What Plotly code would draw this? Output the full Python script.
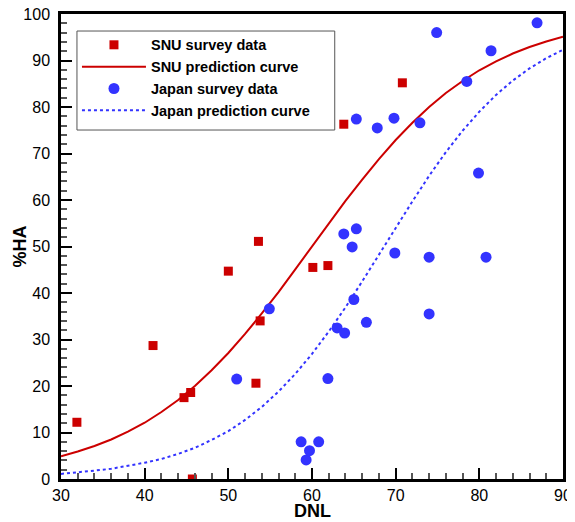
import plotly.graph_objects as go

# SNU survey data
snu_x = [31.9, 41.0, 44.7, 45.5, 45.7, 50.0, 53.3, 53.6, 53.8, 60.1, 61.9, 63.8, 70.8]
snu_y = [12.2, 28.7, 17.5, 18.6, 0.0, 44.7, 20.6, 51.1, 34.0, 45.5, 45.9, 76.3, 85.2]

# Japan survey data
jp_x = [51.0, 54.9, 58.7, 59.3, 59.7, 60.8, 61.9, 63.0, 63.9, 65.0, 66.5, 74.0, 63.8, 65.3,
        64.8, 69.9, 74.0, 80.8, 74.9, 86.9, 81.4, 78.5, 65.3, 67.8, 69.8, 72.9, 79.9]
jp_y = [21.5, 36.6, 8.0, 4.1, 6.1, 8.0, 21.6, 32.5, 31.4, 38.6, 33.7, 35.5, 52.7, 53.8,
        49.9, 48.6, 47.7, 47.7, 96.0, 98.1, 92.1, 85.5, 77.4, 75.5, 77.6, 76.6, 65.8]

# prediction curves
curve_x = [30, 32, 34, 36, 38, 40, 42, 44, 46, 48, 50, 52, 54, 56, 58, 60,
           62, 64, 66, 68, 70, 72, 74, 76, 78, 80, 82, 84, 86, 88, 90]
snu_curve = [4.9, 5.9, 7.1, 8.5, 10.2, 12.1, 14.4, 17.0, 20.0, 23.4, 27.1, 31.2, 35.6, 40.2, 45.1, 50.0,
             54.9, 59.8, 64.4, 68.8, 72.9, 76.6, 80.0, 83.0, 85.6, 87.9, 89.8, 91.5, 92.9, 94.1, 95.1]
jp_curve = [1.1, 1.4, 1.8, 2.2, 2.8, 3.5, 4.3, 5.4, 6.7, 8.4, 10.3, 12.7, 15.5, 18.8, 22.6, 26.9,
            31.7, 36.9, 42.5, 48.3, 54.1, 59.7, 65.2, 70.3, 74.9, 79.0, 82.6, 85.7, 88.3, 90.5, 92.3]

RED = "#CC0000"
BLUE = "#3333FF"
FONT = "Liberation Sans, Arial, sans-serif"

fig = go.Figure()
fig.add_trace(go.Scatter(x=snu_x, y=snu_y, mode="markers", name="SNU survey data",
                         marker=dict(symbol="square", size=9, color=RED)))
fig.add_trace(go.Scatter(x=curve_x, y=snu_curve, mode="lines", name="SNU prediction curve",
                         line=dict(color=RED, width=2)))
fig.add_trace(go.Scatter(x=jp_x, y=jp_y, mode="markers", name="Japan survey data",
                         marker=dict(symbol="circle", size=11, color=BLUE)))
fig.add_trace(go.Scatter(x=curve_x, y=jp_curve, mode="lines", name="Japan prediction curve",
                         line=dict(color=BLUE, width=2, dash="dot")))

axis_common = dict(
    showgrid=False, zeroline=False, showline=True, linecolor="black", linewidth=2.5,
    mirror=True, ticks="inside", ticklen=11, tickwidth=2, tickcolor="black",
    tickfont=dict(family=FONT, size=16, color="black"),
    minor=dict(ticks="inside", ticklen=6, tickwidth=1.5, tickcolor="#555555", dtick=2),
    automargin=False, ticklabeloverflow="allow",
)

fig.update_xaxes(range=[30, 90], dtick=10, tick0=30, **axis_common)
fig.update_yaxes(range=[0, 100], dtick=10, tick0=0, ticklabelstandoff=5, **axis_common)

# legend frame (drawn as a box behind the legend entries)
fig.add_shape(type="rect", xref="paper", yref="paper",
              x0=0.0318, x1=0.5453, y0=0.7505, y1=0.9634,
              fillcolor="white", line=dict(color="#555555", width=1), layer="above")

fig.add_annotation(text="<b>DNL</b>", xref="paper", yref="paper", x=0.5015, y=-0.068,
                   showarrow=False, xanchor="center", yanchor="middle",
                   font=dict(family=FONT, size=18, color="black"))
fig.add_annotation(text="<b>%HA</b>", xref="paper", yref="paper", x=-0.0836, y=0.5,
                   showarrow=False, xanchor="center", yanchor="middle", textangle=-90,
                   font=dict(family=FONT, size=18, color="black"))

# the page body adds an 8px margin, so the figure is 8px smaller and margins shifted
fig.update_layout(
    width=567, height=514,
    margin=dict(l=53, r=11.5, t=6, b=43),
    plot_bgcolor="white", paper_bgcolor="white",
    legend=dict(x=0.0318, y=0.968, xanchor="left", yanchor="top",
                bgcolor="rgba(0,0,0,0)", borderwidth=0,
                font=dict(family=FONT, size=14.5, color="black", weight="bold"),
                tracegroupgap=0, itemwidth=64),
    showlegend=True,
)

fig.write_html("out.html")
